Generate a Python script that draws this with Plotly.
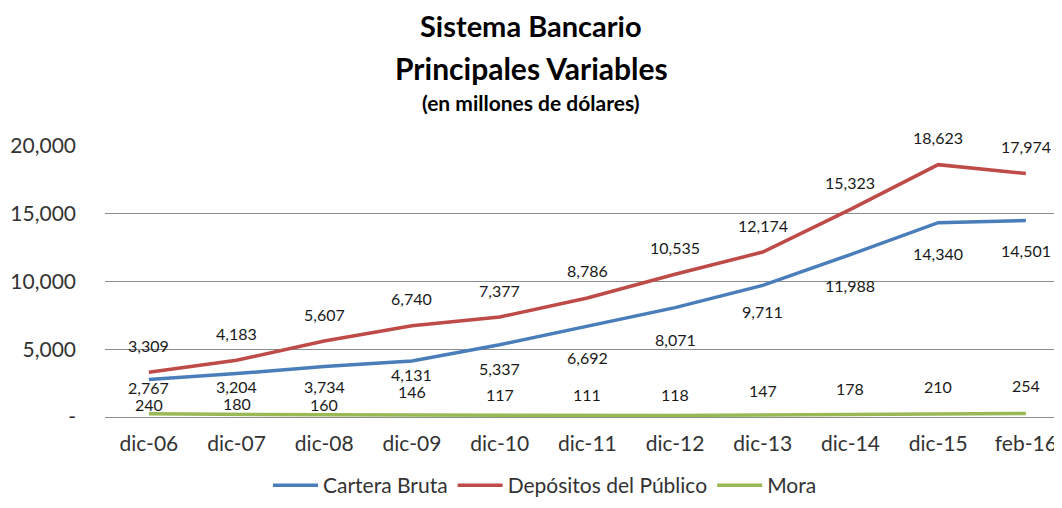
import plotly.graph_objects as go

categories = ["dic-06", "dic-07", "dic-08", "dic-09", "dic-10", "dic-11",
              "dic-12", "dic-13", "dic-14", "dic-15", "feb-16"]
cartera_bruta = [2767, 3204, 3734, 4131, 5337, 6692, 8071, 9711, 11988, 14340, 14501]
depositos = [3309, 4183, 5607, 6740, 7377, 8786, 10535, 12174, 15323, 18623, 17974]
mora = [240, 180, 160, 146, 117, 111, 118, 147, 178, 210, 254]

y_tickvals = [0, 5000, 10000, 15000, 20000]
y_ticktext = ["-", "5,000", "10,000", "15,000", "20,000"]

# label offsets (pixels) – styling only
cartera_shift = [-8, -13, -20, -13, -24, -31, -32, -26, -31, -31, -30]
depositos_shift = [27] * 11
mora_shift = [9, 11, 10, 24, 21, 21, 21, 25, 26, 28, 28]

FONT = "Lato"
colors = {"Cartera Bruta": "#4A7EBB", "Depósitos del Público": "#BE4B48", "Mora": "#98B954"}

# page body margin offsets the figure by 8 px; work in screen pixels and convert
OFF = 8
W, H = 1062 - OFF, 508 - OFF
PLOT_TOP, PLOT_BOTTOM, PLOT_LEFT, PLOT_RIGHT = 146 - OFF, 417 - OFF, 105 - OFF, 1060 - OFF
ph = PLOT_BOTTOM - PLOT_TOP
pw = PLOT_RIGHT - PLOT_LEFT
step = 87.7  # px per category in the reference; the plot is cut at the right edge
x_max = -0.5 + pw / step

fig = go.Figure()
series = [("Cartera Bruta", cartera_bruta, cartera_shift),
          ("Depósitos del Público", depositos, depositos_shift),
          ("Mora", mora, mora_shift)]
for name, vals, _ in series:
    fig.add_trace(go.Scatter(x=categories, y=vals, mode="lines", name=name,
                             line=dict(color=colors[name], width=3.5)))

annotations = []
for name, vals, shifts in series:
    for c, v, s in zip(categories, vals, shifts):
        annotations.append(dict(x=c, y=v, xref="x", yref="y", text=f"{v:,}",
                                showarrow=False, yshift=s,
                                font=dict(family=FONT, size=16, color="#1a1a1a")))

titles = [("<b>Sistema Bancario</b>", 25, 29), ("<b>Principales Variables</b>", 68, 30),
          ("<b>(en millones de dólares)</b>", 103, 21)]
for text, ypx, size in titles:
    annotations.append(dict(x=(531 - OFF - PLOT_LEFT) / pw,
                            y=(PLOT_BOTTOM - (ypx - OFF)) / ph,
                            xref="paper", yref="paper", text=text, showarrow=False,
                            yanchor="middle", xanchor="center",
                            font=dict(family=FONT, size=size, color="#000000")))

fig.update_layout(
    width=W, height=H,
    margin=dict(l=PLOT_LEFT, r=W - PLOT_RIGHT, t=PLOT_TOP, b=H - PLOT_BOTTOM,
                autoexpand=False),
    paper_bgcolor="white", plot_bgcolor="white",
    showlegend=True,
    legend=dict(orientation="h", x=(545 - OFF - PLOT_LEFT) / pw, xanchor="center",
                y=(PLOT_BOTTOM - (H - 2)) / ph, yanchor="bottom",
                font=dict(family=FONT, size=21, color="#333333"),
                itemwidth=45, tracegroupgap=0),
    xaxis=dict(type="category", range=[-0.5, x_max], showgrid=False, showline=False,
               ticks="", tickfont=dict(family=FONT, size=21, color="#333333"),
               ticklabelstandoff=12, automargin=False),
    yaxis=dict(range=[0, 20000], tickvals=y_tickvals, ticktext=y_ticktext,
               showgrid=True, gridcolor="#8c8c8c", gridwidth=1, zeroline=True,
               zerolinecolor="#8c8c8c", zerolinewidth=1, showline=False,
               tickfont=dict(family=FONT, size=21, color="#333333"),
               ticklabelstandoff=28, automargin=False),
    annotations=annotations,
)

fig.write_html("out.html")
